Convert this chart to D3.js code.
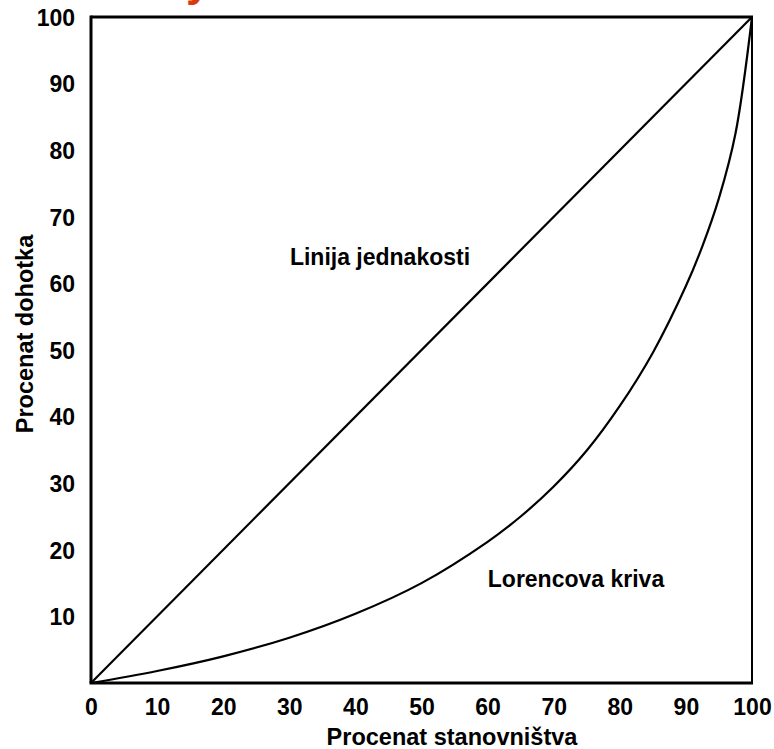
<!DOCTYPE html>
<html><head><meta charset="utf-8">
<script src="https://cdn.jsdelivr.net/npm/d3@7"></script>
<style>body{margin:0;background:#fff;} svg{display:block;font-family:"Liberation Sans",Arial,sans-serif;font-weight:bold;}</style>
</head><body>
<script>
const xTicks = [0,10,20,30,40,50,60,70,80,90,100];
const yTicks = [10,20,30,40,50,60,70,80,90,100];
const equalityX = [0,100];
const equalityY = [0,100];
const lorenzX = [0,10,20,30,40,50,60,65,70,75,80,85,90,92.5,95,97.5,100];
const lorenzY = [0,1.8,4.0,6.8,10.4,15.0,21.2,25.0,29.5,34.9,41.6,49.6,59.6,65.6,72.8,82.5,100];
const labels = ["Linija jednakosti","Lorencova kriva"];
const xTitle = "Procenat stanovništva";
const yTitle = "Procenat dohotka";

const W=774,H=749;
const L=91,R=752,T=17,B=683;
const svg=d3.select("body").append("svg").attr("width",W).attr("height",H);
const x=d3.scaleLinear().domain([0,100]).range([L,R]);
const y=d3.scaleLinear().domain([0,100]).range([B,T]);

// orange cut-off title fragments
svg.append("text").attr("x",186).attr("y",-4).attr("fill","#d83a0c").attr("font-size",44).text("y");
svg.append("text").attr("x",-14).attr("y",-4).attr("fill","#d83a0c").attr("font-size",44).text("y");

// frame
svg.append("line").attr("x1",R).attr("x2",R).attr("y1",T).attr("y2",B).attr("stroke","#000").attr("stroke-width",2);
svg.append("line").attr("x1",L).attr("x2",R+1).attr("y1",T).attr("y2",T).attr("stroke","#000").attr("stroke-width",3);
svg.append("line").attr("x1",L-1.5).attr("x2",R+1).attr("y1",B).attr("y2",B).attr("stroke","#000").attr("stroke-width",3);
svg.append("line").attr("x1",L).attr("x2",L).attr("y1",T-1.5).attr("y2",B).attr("stroke","#000").attr("stroke-width",3);

const line=d3.line().x(d=>x(d[0])).y(d=>y(d[1]));
svg.append("path").datum(d3.zip(equalityX,equalityY)).attr("d",line).attr("fill","none").attr("stroke","#000").attr("stroke-width",2.2);
svg.append("path").datum(d3.zip(lorenzX,lorenzY)).attr("d",line.curve(d3.curveCatmullRom.alpha(0.5))).attr("fill","none").attr("stroke","#000").attr("stroke-width",2.2);

const FS=23;
// x ticks
const xa=d3.axisBottom(x).tickValues(xTicks).tickSize(0).tickPadding(0);
const gx=svg.append("g").attr("transform",`translate(0,${B})`).call(xa);
gx.select(".domain").remove();
gx.selectAll("text").attr("y",null).attr("dy",null).attr("transform","translate(0,32)").attr("font-size",FS).attr("font-family","Liberation Sans, Arial").attr("font-weight","bold").attr("fill","#000");

const ya=d3.axisLeft(y).tickValues(yTicks).tickSize(0).tickPadding(16);
const gy=svg.append("g").attr("transform",`translate(${L},0)`).call(ya);
gy.select(".domain").remove();
gy.selectAll("text").attr("dy","0.36em").attr("font-size",FS).attr("font-family","Liberation Sans, Arial").attr("font-weight","bold").attr("fill","#000");

svg.append("text").attr("x",452).attr("y",745).attr("text-anchor","middle").attr("font-size",23.5).text(xTitle);
svg.append("text").attr("transform","translate(33,334) rotate(-90)").attr("text-anchor","middle").attr("font-size",23.5).text(yTitle);

svg.append("text").attr("x",380).attr("y",265).attr("text-anchor","middle").attr("font-size",FS).text(labels[0]);
svg.append("text").attr("x",576).attr("y",587).attr("text-anchor","middle").attr("font-size",FS).text(labels[1]);
</script>
</body></html>
